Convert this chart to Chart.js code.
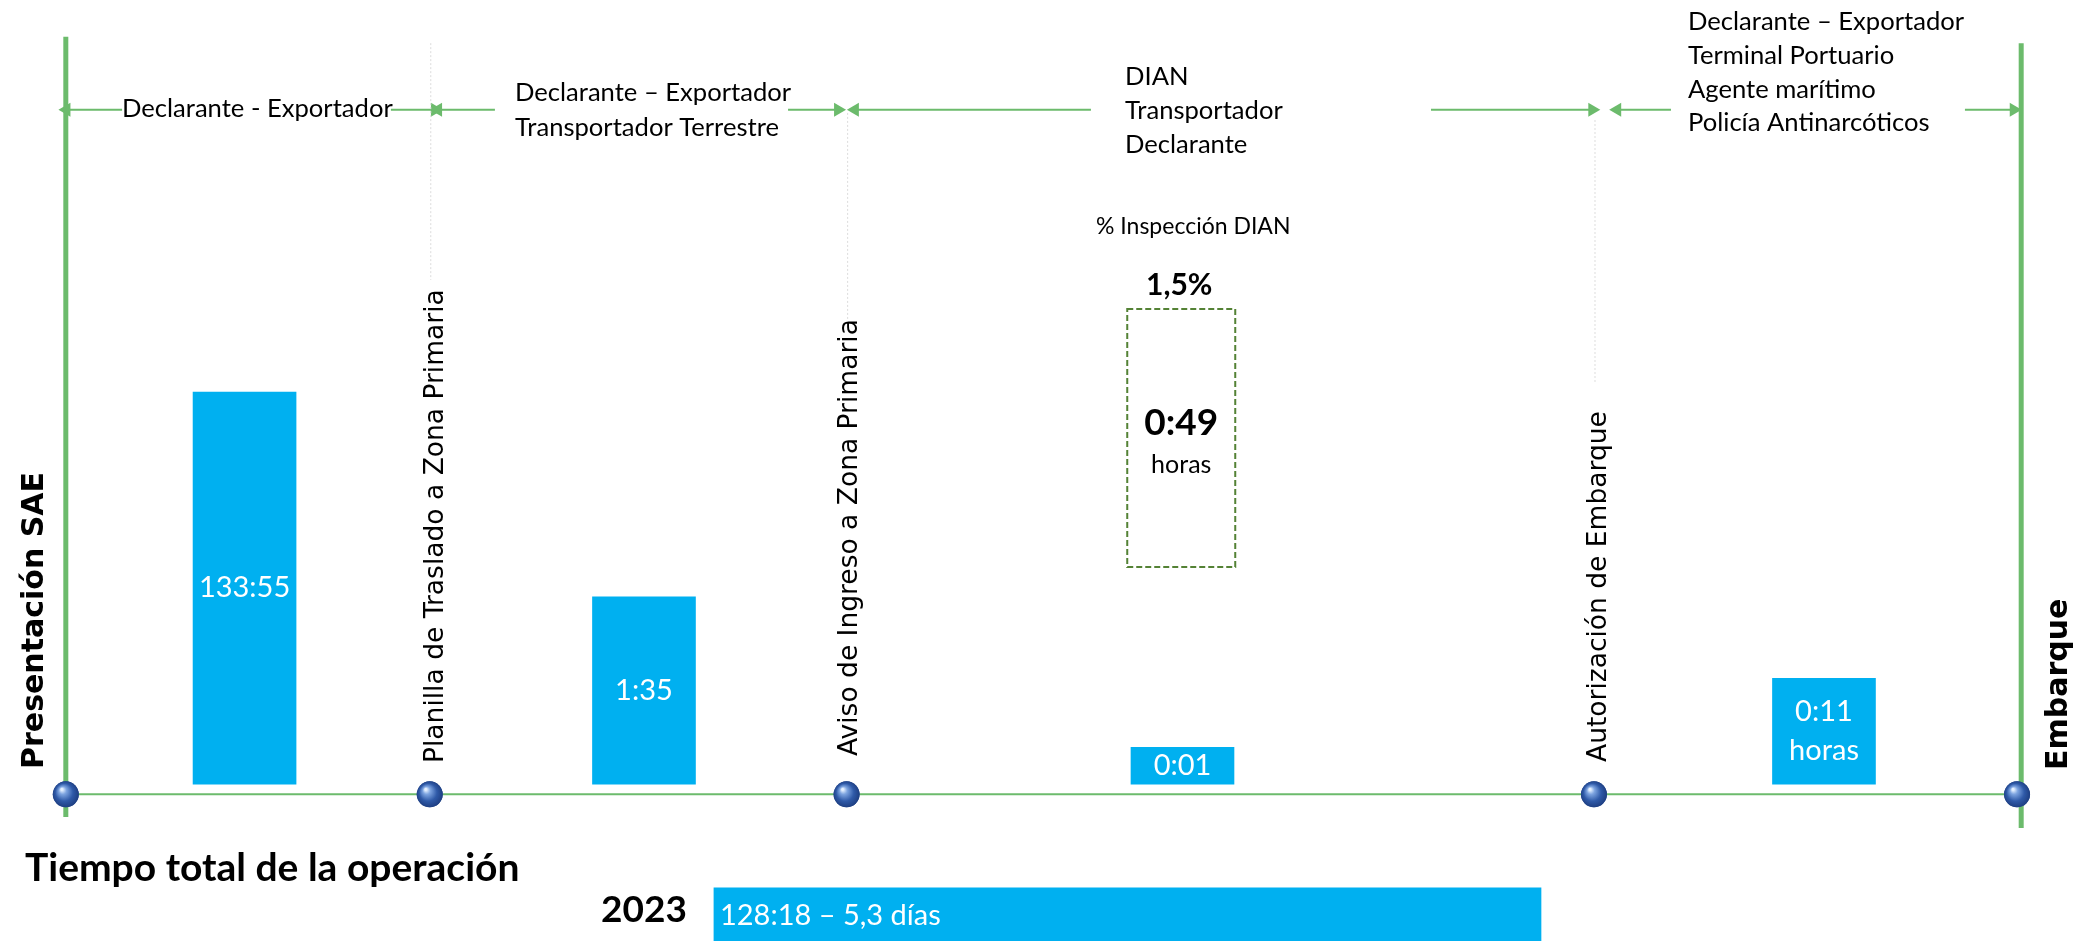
<!DOCTYPE html>
<html lang="es">
<head>
<meta charset="utf-8">
<title>Tiempo total de la operación</title>
<script src="https://cdn.jsdelivr.net/npm/chart.js@4.4.1/dist/chart.umd.min.js"></script>
<style>
  html, body { margin: 0; padding: 0; background: #fff; }
  #wrap { position: relative; width: 2076px; height: 941px; }
</style>
</head>
<body>
<div id="wrap"><canvas id="timeline"></canvas></div>
<script>
const CYAN = '#00b0f0';
const GREEN = '#6cbb6c';

// hitos de la operación (posición sobre la línea de tiempo, 0-100)
const milestones = ['Presentación SAE', 'Planilla de Traslado a Zona Primaria', 'Aviso de Ingreso a Zona Primaria', 'Autorización de Embarque', 'Embarque'];
const milestonePos = [3.17, 20.7, 40.78, 76.78, 97.16];

// tiempo de cada tramo
const stageLabels = [['133:55'], ['1:35'], ['0:01'], ['0:11', 'horas']];
const stagePos = [11.78, 31.02, 56.96, 87.86];
const stageHeight = [50, 23.9, 4.7, 13.5];

// inspección DIAN
const inspTitle = '% Inspección DIAN';
const inspPct = '1,5%';
const inspTime = ['0:49', 'horas'];
const inspPos = 56.9;
const inspRange = [27.7, 60.6];

// responsables de cada tramo
const actors = [
  ['Declarante - Exportador'],
  ['Declarante – Exportador', 'Transportador Terrestre'],
  ['DIAN', 'Transportador', 'Declarante'],
  ['Declarante – Exportador', 'Terminal Portuario', 'Agente marítimo', 'Policía Antinarcóticos']
];
// flechas [cola, punta]
const arrowSpans = [[5.88, 3.2], [18.83, 20.95], [23.84, 21.1], [37.96, 40.37], [52.55, 41.18], [68.93, 76.7], [80.49, 77.9], [94.65, 97.0]];

// guías punteadas sobre los hitos intermedios
const guideTop = [94.5, 85.6, 84.7];
const guideBottom = [64.3, 59.2, 51.2];

// tiempo total
const totalTitle = 'Tiempo total de la operación';
const totalYear = '2023';
const totalLabel = '128:18 – 5,3 días';
const totalRange = [34.39, 74.23];

const timelineY = -1.3;
const arrowY = 86;
const totalY = -16.6;
const edgeTop = [95.3, 94.5];
const edgeBottom = [-4.2, -5.6];

const gap = x => ({x, y: null});

const edgeData = [
  {x: milestonePos[0], y: edgeTop[0]}, {x: milestonePos[0], y: edgeBottom[0]}, gap(milestonePos[0]),
  {x: milestonePos[4] + 0.2, y: edgeTop[1]}, {x: milestonePos[4] + 0.2, y: edgeBottom[1]}
];

const guideData = [];
guideTop.forEach((t, i) => {
  const gx = milestonePos[i + 1] + 0.05;
  guideData.push({x: gx, y: t}, {x: gx, y: guideBottom[i]}, gap(gx));
});

const arrowData = [];
arrowSpans.forEach(([tail, head]) => {
  arrowData.push({x: tail, y: arrowY}, {x: head, y: arrowY, head: true, rot: head > tail ? 90 : -90}, gap(head));
});

const textPlugin = {
  id: 'textos',
  afterDatasetsDraw(chart) {
    const {ctx, scales: {x}} = chart;
    const put = (str, px, py, font, color, align) => {
      ctx.font = font;
      ctx.fillStyle = color;
      ctx.textAlign = align || 'center';
      ctx.textBaseline = 'middle';
      ctx.fillText(str, px, py);
    };
    ctx.save();

    // esferas de los hitos
    chart.getDatasetMeta(0).data.forEach(pt => {
      const g = ctx.createRadialGradient(pt.x - 4, pt.y - 5, 1, pt.x, pt.y, 14);
      g.addColorStop(0, '#e4f0ff');
      g.addColorStop(0.22, '#7da4e0');
      g.addColorStop(0.6, '#2f5aa8');
      g.addColorStop(1, '#1b3a7c');
      ctx.fillStyle = g;
      ctx.beginPath();
      ctx.arc(pt.x, pt.y, 13, 0, Math.PI * 2);
      ctx.fill();
    });

    // recuadro punteado de inspección
    const box = chart.getDatasetMeta(6).data[0];
    ctx.strokeStyle = '#548235';
    ctx.lineWidth = 2;
    ctx.setLineDash([6, 3]);
    ctx.strokeRect(box.x - box.width / 2, box.y, box.width, box.base - box.y);
    ctx.setLineDash([]);
    put(inspTitle, box.x + 12, box.y - 82, '23px Lato', '#000');
    put(inspPct, box.x - 2, box.y - 24, 'bold 30px Lato', '#000');
    const mid = (box.y + box.base) / 2;
    put(inspTime[0], box.x, mid - 15, 'bold 37px Lato', '#000');
    put(inspTime[1], box.x, mid + 27, '25px Lato', '#000');

    // etiquetas de las barras
    chart.getDatasetMeta(5).data.forEach((bar, i) => {
      const lines = stageLabels[i];
      const cy = (bar.y + bar.base) / 2;
      lines.forEach((l, k) => put(l, bar.x, cy + (k - (lines.length - 1) / 2) * 39, '29px Lato', '#fff'));
    });

    // hitos en vertical
    const dx = [-23, 13, 10, 12, 50];
    const startY = [769, 763, 756, 762, 770];
    milestones.forEach((name, i) => {
      const bold = i === 0 || i === milestones.length - 1;
      ctx.save();
      ctx.translate(x.getPixelForValue(milestonePos[i]) + dx[i], startY[i]);
      ctx.rotate(-Math.PI / 2);
      ctx.font = bold ? 'bold 30px "DejaVu Sans"' : '26.5px "DejaVu Sans"';
      ctx.fillStyle = '#000';
      ctx.textAlign = 'left';
      ctx.textBaseline = 'alphabetic';
      ctx.fillText(name, 0, 0);
      ctx.restore();
    });

    // responsables
    const blockX = [122, 515, 1125, 1688];
    const blockY = [109, 93, 77, 22];
    const lineH = [34, 35, 34, 33.7];
    actors.forEach((lines, b) => {
      lines.forEach((l, k) => put(l, blockX[b], blockY[b] + k * lineH[b], '25.6px Lato', '#000', 'left'));
    });

    // tiempo total
    const tot = chart.getDatasetMeta(7).data[0];
    put(totalTitle, 25, 868, 'bold 39px Lato', '#000', 'left');
    put(totalYear, tot.base - 27, tot.y - 4, 'bold 37px Lato', '#000', 'right');
    put(totalLabel, tot.base + 6, tot.y + 1, '29px Lato', '#fff', 'left');
    ctx.restore();
  }
};

new Chart(document.getElementById('timeline'), {
  type: 'bar',
  data: {
    datasets: [
      {
        type: 'line',
        data: milestonePos.map(p => ({x: p, y: timelineY})),
        showLine: false,
        pointRadius: 13,
        pointBorderWidth: 0,
        pointBackgroundColor: '#2f5597'
      },
      {
        type: 'line',
        data: [{x: milestonePos[0], y: timelineY}, {x: milestonePos[4], y: timelineY}],
        borderColor: GREEN,
        borderWidth: 2,
        pointRadius: 0
      },
      {
        type: 'line',
        data: edgeData,
        borderColor: GREEN,
        borderWidth: 5,
        pointRadius: 0,
        spanGaps: false
      },
      {
        type: 'line',
        data: guideData,
        borderColor: '#dcdcdc',
        borderWidth: 1,
        borderDash: [2, 2],
        pointRadius: 0,
        spanGaps: false
      },
      {
        type: 'line',
        data: arrowData,
        borderColor: GREEN,
        borderWidth: 2,
        spanGaps: false,
        pointStyle: 'triangle',
        pointRadius: c => (c.raw && c.raw.head ? 8 : 0),
        pointRotation: c => (c.raw && c.raw.rot) || 0,
        pointBackgroundColor: GREEN,
        pointBorderWidth: 0
      },
      {
        data: stagePos.map((p, i) => ({x: p, y: stageHeight[i]})),
        backgroundColor: CYAN,
        barThickness: 103,
        grouped: false
      },
      {
        data: [{x: inspPos, y: inspRange}],
        backgroundColor: 'rgba(0,0,0,0)',
        borderWidth: 0,
        barThickness: 108,
        grouped: false
      },
      {
        indexAxis: 'y',
        data: [{x: totalRange, y: totalY}],
        backgroundColor: CYAN,
        barThickness: 53,
        grouped: false
      }
    ]
  },
  options: {
    responsive: true,
    maintainAspectRatio: false,
    animation: false,
    events: [],
    layout: {padding: 0, autoPadding: false},
    scales: {
      x: {type: 'linear', min: 0, max: 100, offset: false, display: false},
      y: {type: 'linear', min: -20, max: 100, offset: false, display: false}
    },
    plugins: {legend: {display: false}, tooltip: {enabled: false}}
  },
  plugins: [textPlugin]
});
</script>
</body>
</html>
